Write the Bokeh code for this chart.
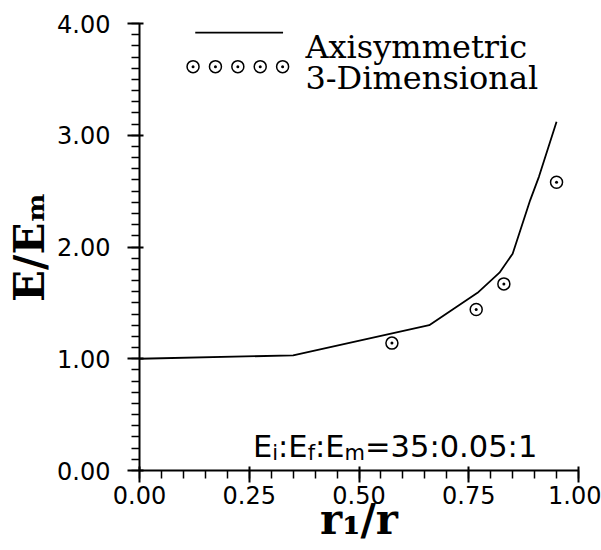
import numpy as np
from bokeh.plotting import figure
from bokeh.models import Range1d, FixedTicker, Label, CustomJSTickFormatter
from bokeh.embed import file_html
from bokeh.resources import INLINE

# ---------------- data ----------------
axi_x = [0.00, 0.35, 0.66, 0.77, 0.82, 0.85, 0.89, 0.91, 0.95]
axi_y = [1.00, 1.03, 1.30, 1.59, 1.77, 1.94, 2.42, 2.63, 3.12]
dim3_x = [0.575, 0.767, 0.830, 0.950]
dim3_y = [1.14, 1.44, 1.67, 2.58]
x_ticks = [0.0, 0.25, 0.5, 0.75, 1.0]
x_tick_labels = ["0.00", "0.25", "0.50", "0.75", "1.00"]
y_ticks = [0.0, 1.0, 2.0, 3.0, 4.0]
y_tick_labels = ["0.00", "1.00", "2.00", "3.00", "4.00"]
series_names = ["Axisymmetric", "3-Dimensional"]
x_title = "r\u2081/r"
y_title = "E/E\u2098"

SANS = "DejaVu Sans"
SERIF = "DejaVu Serif"

p = figure(width=601, height=550,
           min_border_left=139, min_border_right=23,
           min_border_top=23, min_border_bottom=80,
           x_range=Range1d(0, 1), y_range=Range1d(0, 4),
           output_backend="svg", toolbar_location=None)
p.outline_line_color = None
p.xgrid.visible = False
p.ygrid.visible = False
p.background_fill_color = "white"
p.border_fill_color = "white"

p.xaxis.ticker = FixedTicker(ticks=x_ticks,
                             minor_ticks=[round(v, 3) for v in np.arange(0, 1.0001, 0.05)])
p.yaxis.ticker = FixedTicker(ticks=y_ticks,
                             minor_ticks=[round(v, 3) for v in np.arange(0, 4.0001, 0.1)])
p.xaxis.formatter = CustomJSTickFormatter(args=dict(labels=x_tick_labels),
                                          code="return labels[index];")
p.yaxis.formatter = CustomJSTickFormatter(args=dict(labels=y_tick_labels),
                                          code="return labels[index];")

for ax in (p.xaxis[0], p.yaxis[0]):
    ax.axis_line_width = 2
    ax.axis_line_color = "black"
    ax.major_tick_line_width = 2
    ax.major_tick_line_color = "black"
    ax.minor_tick_line_width = 1.5
    ax.minor_tick_line_color = "black"
    ax.major_tick_in = 4
    ax.major_tick_out = 12
    ax.minor_tick_in = 0
    ax.minor_tick_out = 8
    ax.major_label_text_font = SANS
    ax.major_label_text_font_size = "24px"
    ax.major_label_text_color = "black"
    ax.axis_label_text_font = SERIF
    ax.axis_label_text_font_style = "bold"
    ax.axis_label_text_font_size = "42px"
    ax.axis_label_text_color = "black"
p.xaxis.major_label_standoff = 3
p.yaxis.major_label_standoff = 17
p.xaxis.axis_label = x_title
p.yaxis.axis_label = y_title
p.xaxis.axis_label_standoff = -12
p.yaxis.axis_label_standoff = 0

# ---------------- series ----------------
p.line(axi_x, axi_y, line_color="black", line_width=1.8)
p.scatter(dim3_x, dim3_y, marker="circle_dot", size=12,
          line_color="black", line_width=1.5, fill_color="white")

# ---------------- legend (drawn manually) ----------------
p.line([0.127, 0.327], [3.918, 3.918], line_color="black", line_width=1.8)
p.scatter(np.linspace(0.122, 0.326, 5), [3.614] * 5, marker="circle_dot", size=12,
          line_color="black", line_width=1.5, fill_color="white")
p.add_layout(Label(x=0.378, y=3.791, text=series_names[0], text_font=SERIF,
                   text_font_size="32px", text_color="black",
                   text_baseline="alphabetic"))
p.add_layout(Label(x=0.378, y=3.508, text=series_names[1], text_font=SERIF,
                   text_font_size="32px", text_color="black",
                   text_baseline="alphabetic"))

# ---------------- annotation with subscripts ----------------
W_SANS = {"E": .632, "i": .278, "f": .352, "m": .974, ":": .337, "=": .838,
          "0": .636, "1": .636, "3": .636, "5": .636, ".": .318}


def composite(pieces, x, y, size, sub_size, drop):
    off = 0.0
    for txt, sub in pieces:
        fs = sub_size if sub else size
        p.add_layout(Label(x=x, y=y, x_offset=off, y_offset=(-drop if sub else 0),
                           text=txt, text_font=SANS, text_font_size=f"{fs}px",
                           text_color="black", text_align="left",
                           text_baseline="alphabetic"))
        off += sum(W_SANS[c] for c in txt) * fs


composite([("E", False), ("i", True), (":E", False), ("f", True), (":E", False),
           ("m", True), ("=35:0.05:1", False)],
          0.2585, 0.215, 30.5, 21, 7)

open("out.html", "w").write(file_html(p, INLINE))
